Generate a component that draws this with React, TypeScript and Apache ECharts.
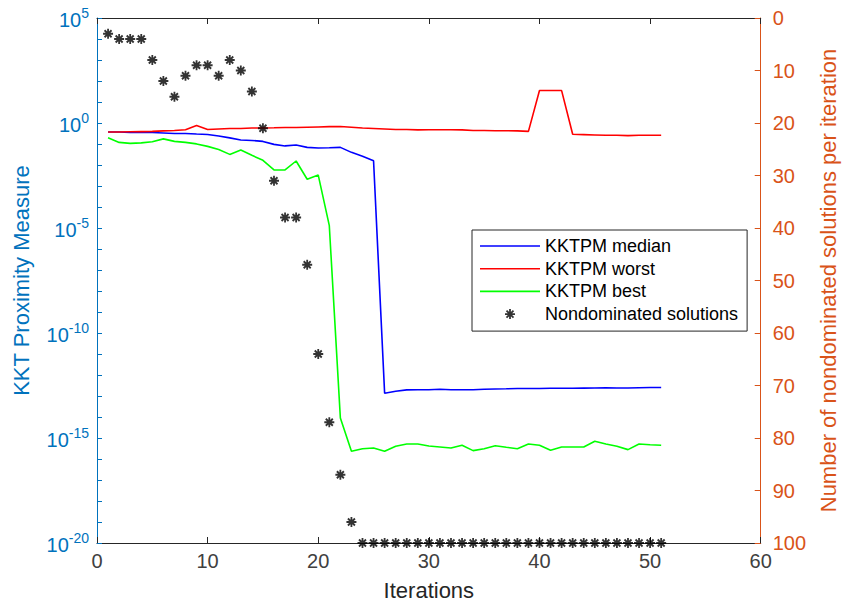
import React, { useEffect, useRef } from "react";
import * as echarts from "echarts";

const ITERATIONS = [
  1, 2, 3, 4, 5, 6, 7, 8, 9, 10, 11, 12, 13, 14, 15, 16, 17, 18, 19, 20, 21, 22, 23, 24, 25,
  26, 27, 28, 29, 30, 31, 32, 33, 34, 35, 36, 37, 38, 39, 40, 41, 42, 43, 44, 45, 46, 47, 48,
  49, 50, 51,
];

const KKTPM_MEDIAN = [
  0.37, 0.37, 0.355, 0.355, 0.355, 0.336, 0.318, 0.318, 0.3, 0.285, 0.242, 0.195, 0.156,
  0.148, 0.133, 0.096, 0.081, 0.089, 0.069, 0.065, 0.066, 0.069, 0.04, 0.026, 0.0158,
  1.36e-13, 1.69e-13, 1.95e-13, 2.0e-13, 2.0e-13, 2.1e-13, 2.0e-13, 2.0e-13, 2.0e-13,
  2.1e-13, 2.17e-13, 2.2e-13, 2.27e-13, 2.27e-13, 2.27e-13, 2.34e-13, 2.34e-13, 2.34e-13,
  2.37e-13, 2.4e-13, 2.47e-13, 2.4e-13, 2.4e-13, 2.47e-13, 2.53e-13, 2.53e-13,
];

const KKTPM_WORST = [
  0.37, 0.37, 0.38, 0.39, 0.4, 0.42, 0.44, 0.48, 0.76, 0.49, 0.52, 0.55, 0.55, 0.58, 0.58,
  0.59, 0.61, 0.61, 0.63, 0.65, 0.67, 0.68, 0.63, 0.58, 0.55, 0.52, 0.49, 0.49, 0.47, 0.48,
  0.48, 0.48, 0.47, 0.44, 0.44, 0.43, 0.43, 0.42, 0.4, 35, 35, 35, 0.29, 0.28, 0.27, 0.26,
  0.26, 0.25, 0.26, 0.26, 0.26,
];

const KKTPM_BEST = [
  0.199, 0.119, 0.107, 0.113, 0.129, 0.175, 0.133, 0.119, 0.101, 0.077, 0.055, 0.032, 0.052,
  0.029, 0.0167, 0.0058, 0.0058, 0.0155, 0.0021, 0.0033, 1.29e-5, 8.9e-15, 2.34e-16, 3.1e-16,
  3.36e-16, 2.34e-16, 4.05e-16, 5.2e-16, 5.2e-16, 4.18e-16, 3.75e-16, 3.36e-16, 4.5e-16,
  2.5e-16, 3.1e-16, 4.3e-16, 3.6e-16, 3.1e-16, 5.2e-16, 4.5e-16, 2.6e-16, 3.75e-16, 3.75e-16,
  3.75e-16, 7.0e-16, 5.2e-16, 4.05e-16, 2.8e-16, 5.2e-16, 4.8e-16, 4.5e-16,
];

const NONDOMINATED = [
  3, 4, 4, 4, 8, 12, 15, 11, 9, 9, 11, 8, 10, 14, 21, 31, 38, 38, 47, 64, 77, 87, 96, 100,
  100, 100, 100, 100, 100, 100, 100, 100, 100, 100, 100, 100, 100, 100, 100, 100, 100, 100,
  100, 100, 100, 100, 100, 100, 100, 100, 100,
];

const X_TICKS_LABELS = ["0", "10", "20", "30", "40", "50", "60"];
const SERIES_NAMES = ["KKTPM median", "KKTPM worst", "KKTPM best", "Nondominated solutions"];

const STAR_PATH =
  "path://M-5,-0.9L5,-0.9L5,0.9L-5,0.9Z" +
  "M-0.9,-5L0.9,-5L0.9,5L-0.9,5Z" +
  "M-2.86,-4.14L4.14,2.86L2.86,4.14L-4.14,-2.86Z" +
  "M2.86,-4.14L4.14,-2.86L-2.86,4.14L-4.14,2.86Z";

const LINE_ICON = "path://M0,-0.8L60,-0.8L60,0.8L0,0.8Z";

const FONT = "'Liberation Sans', Arial, Helvetica, sans-serif";
const AX_GRAY = "#262626";
const LEFT_COLOR = "#0072BD";
const RIGHT_COLOR = "#D95319";

export default function App() {
  const ref = useRef<HTMLDivElement>(null);

  useEffect(() => {
    document.body.style.margin = "0";
    const chart = echarts.init(ref.current!, null, { renderer: "svg" });

    const pairs = (vals: number[]) => ITERATIONS.map((x, i) => [x, vals[i]]);

    chart.setOption({
      animation: false,
      backgroundColor: "#ffffff",
      textStyle: { fontFamily: FONT },
      grid: { left: 97, right: 79, top: 18, bottom: 61, containLabel: false },
      legend: {
        left: 472,
        top: 230,
        orient: "vertical",
        align: "left",
        backgroundColor: "#ffffff",
        borderColor: AX_GRAY,
        borderWidth: 1,
        borderRadius: 0,
        padding: [7, 9, 8, 8],
        itemWidth: 60,
        itemHeight: 10,
        itemGap: 4.7,
        selectedMode: false,
        textStyle: { fontSize: 18, color: "#000000", fontFamily: FONT, lineHeight: 18 },
        data: [
          { name: SERIES_NAMES[0], icon: LINE_ICON },
          { name: SERIES_NAMES[1], icon: LINE_ICON },
          { name: SERIES_NAMES[2], icon: LINE_ICON },
          { name: SERIES_NAMES[3], icon: STAR_PATH },
        ],
      },
      xAxis: [
        {
          type: "value",
          min: 0,
          max: 60,
          interval: 10,
          position: "bottom",
          name: "Iterations",
          nameLocation: "middle",
          nameGap: 36,
          nameTextStyle: { fontSize: 22, color: AX_GRAY, fontFamily: FONT },
          axisLine: { show: true, onZero: false, lineStyle: { color: AX_GRAY, width: 1 } },
          axisTick: { show: true, inside: true, length: 6, lineStyle: { color: AX_GRAY } },
          axisLabel: {
            show: true,
            fontSize: 20,
            color: "#404040",
            fontFamily: FONT,
            margin: 8,
            formatter: (v: number) => X_TICKS_LABELS[Math.round(v / 10)] ?? String(v),
          },
          splitLine: { show: false },
        },
        {
          type: "value",
          min: 0,
          max: 60,
          interval: 10,
          position: "top",
          axisLine: { show: true, onZero: false, lineStyle: { color: AX_GRAY, width: 1 } },
          axisTick: { show: true, inside: true, length: 6, lineStyle: { color: AX_GRAY } },
          axisLabel: { show: false },
          splitLine: { show: false },
        },
      ],
      yAxis: [
        {
          type: "log",
          logBase: 10,
          min: 1e-20,
          max: 1e5,
          interval: 1,
          position: "left",
          name: "KKT Proximity Measure",
          nameLocation: "middle",
          nameGap: 65,
          nameTextStyle: { fontSize: 22, color: LEFT_COLOR, fontFamily: FONT },
          axisLine: { show: true, onZero: false, lineStyle: { color: LEFT_COLOR, width: 1 } },
          axisTick: { show: true, inside: true, length: 5, lineStyle: { color: LEFT_COLOR } },
          axisLabel: {
            show: true,
            interval: 0,
            margin: 8,
            color: LEFT_COLOR,
            formatter: (v: number) => {
              const e = Math.round(Math.log10(v));
              if (e % 5 !== 0) return "";
              return `{b|10}{e|${e}}`;
            },
            rich: {
              b: { fontSize: 20, color: LEFT_COLOR, fontFamily: FONT, verticalAlign: "bottom" },
              e: {
                fontSize: 14,
                color: LEFT_COLOR,
                fontFamily: FONT,
                verticalAlign: "bottom",
                padding: [0, 0, 10, 0],
              },
            },
          },
          splitLine: { show: false },
        },
        {
          type: "value",
          min: 0,
          max: 100,
          interval: 10,
          inverse: true,
          position: "right",
          name: "Number of nondominated solutions per iteration",
          nameLocation: "middle",
          nameGap: 55,
          nameTextStyle: { fontSize: 22, color: RIGHT_COLOR, fontFamily: FONT },
          axisLine: { show: true, onZero: false, lineStyle: { color: RIGHT_COLOR, width: 1 } },
          axisTick: { show: true, inside: true, length: 6, lineStyle: { color: RIGHT_COLOR } },
          axisLabel: { show: true, fontSize: 20, color: RIGHT_COLOR, fontFamily: FONT, margin: 12 },
          splitLine: { show: false },
        },
      ],
      series: [
        {
          name: SERIES_NAMES[0],
          type: "line",
          xAxisIndex: 0,
          yAxisIndex: 0,
          data: pairs(KKTPM_MEDIAN),
          symbol: "none",
          showSymbol: false,
          color: "#0000FF",
          itemStyle: { color: "#0000FF" },
          lineStyle: { color: "#0000FF", width: 1.6 },
          z: 3,
        },
        {
          name: SERIES_NAMES[1],
          type: "line",
          xAxisIndex: 0,
          yAxisIndex: 0,
          data: pairs(KKTPM_WORST),
          symbol: "none",
          showSymbol: false,
          color: "#FF0000",
          itemStyle: { color: "#FF0000" },
          lineStyle: { color: "#FF0000", width: 1.6 },
          z: 3,
        },
        {
          name: SERIES_NAMES[2],
          type: "line",
          xAxisIndex: 0,
          yAxisIndex: 0,
          data: pairs(KKTPM_BEST),
          symbol: "none",
          showSymbol: false,
          color: "#00FF00",
          itemStyle: { color: "#00FF00" },
          lineStyle: { color: "#00FF00", width: 1.6 },
          z: 3,
        },
        {
          name: SERIES_NAMES[3],
          type: "scatter",
          xAxisIndex: 0,
          yAxisIndex: 1,
          data: pairs(NONDOMINATED),
          symbol: STAR_PATH,
          symbolSize: 10,
          color: "#000000",
          itemStyle: { color: "#000000" },
          z: 4,
        },
      ],
    });

    return () => chart.dispose();
  }, []);

  return <div ref={ref} style={{ width: 847, height: 606 }} />;
}
